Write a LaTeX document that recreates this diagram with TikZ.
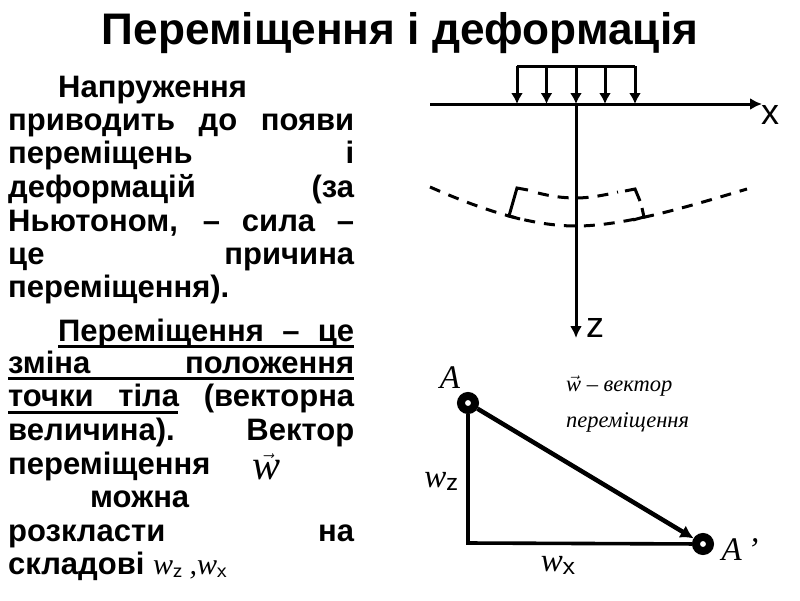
\documentclass[tikz,border=0pt]{standalone}
\usepackage{fontspec}
\setmainfont{Liberation Sans}
\newfontfamily\serifit[ItalicFont=Liberation Serif Italic]{Liberation Serif}
\usetikzlibrary{arrows.meta,positioning,calc}
\tikzset{
  bodytext/.style={anchor=base west, inner sep=0pt, font=\fontsize{31}{34}\selectfont\bfseries},
  axisline/.style={line width=3pt, -{Latex[length=12pt,width=12pt]}},
  loadline/.style={line width=3pt, -{Latex[length=11pt,width=12pt]}},
  beamline/.style={line width=3pt, dash pattern=on 11pt off 9pt},
  hookline/.style={line width=3pt},
  legline/.style={line width=3.6pt},
  ringnode/.style={circle, draw, line width=8pt, minimum size=14pt, inner sep=0pt, fill=white},
  axislab/.style={inner sep=0pt, font=\fontsize{36}{40}\selectfont},
  slantlab/.style={inner sep=0pt, font=\fontsize{33}{38}\selectfont\serifit\itshape},
  notetext/.style={inner sep=0pt, font=\fontsize{22.5}{26}\selectfont\serifit\itshape}
}
\newcommand{\just}[1]{\makebox[346pt][s]{#1}}
\newcommand{\vecw}{$\vec{\hbox{\serifit\itshape w}}$}
\begin{document}
\begin{tikzpicture}[x=1pt, y=-1pt]
  \useasboundingbox (0,0) rectangle (800,600);
  \node[inner sep=0pt, font=\fontsize{44.2}{48}\selectfont\bfseries] (title) at (400,33) {Переміщення і деформація};
  % left column
  \node[bodytext] (par1a) at (58,97) {Напруження};
  \foreach \name/\y/\txt in {par1b/130/приводить до появи, par1c/163/переміщень і, par1d/197/деформацій (за, par1e/231/{Ньютоном, – сила –}, par1f/264/це причина, par2b/373/зміна положення, par2c/406/точки тіла (векторна, par2d/440/величина). Вектор, par2g/541/розкласти на} {
    \node[bodytext] (\name) at (8,\y) {\just{\txt}};
  }
  \node[bodytext] (par1g) at (8,297) {переміщення).};
  \node[bodytext] (par2a) at (58,341) {\makebox[296pt][s]{Переміщення – це}};
  \node[bodytext] (par2e) at (8,474) {переміщення};
  \node[inner sep=0pt, font=\fontsize{42}{46}\selectfont] (vecw) at (267,467) {\vecw};
  \node[bodytext] (par2f) at (90,507) {можна};
  \node[bodytext] (par2h) at (8,574) {складові};
  \node[bodytext, font=\fontsize{30}{34}\selectfont\serifit\itshape] (subw) at (153,574) {w\raisebox{-3pt}{\fontsize{22}{26}\selectfont\normalfont\sffamily z} ,w\raisebox{-3pt}{\fontsize{22}{26}\selectfont\normalfont\sffamily x}};
  \draw[line width=3pt] (58,346) -- (354,346);
  \draw[line width=3pt] (8,378) -- (354,378);
  \draw[line width=3pt] (8,412) -- (178,412);
  % load and axes
  \coordinate (o) at (576,104);
  \coordinate (xbeg) at (430,104);
  \coordinate (xend) at (762,104);
  \coordinate (zend) at (576,338);
  \draw[axisline] (xbeg) -- (xend);
  \draw[axisline] (o) -- (zend);
  \draw[line width=3pt] (517,66) -- (635,66);
  \foreach \x in {517,546.5,576,605,635} {
    \draw[loadline] (\x,66) -- (\x,104);
  }
  \node[axislab] (xlab) at (770,115) {x};
  \node[axislab] (zlab) at (595,328) {z};
  % bent beam
  \draw[beamline] (430,187) .. controls (480,209) and (530,226) .. (576,226) .. controls (625,226) and (690,206) .. (747,189);
  \draw[beamline] (538,193) .. controls (550,196) and (562,198) .. (576,198) .. controls (590,198) and (605,195) .. (618,192);
  \draw[hookline] (528,190) -- (517,188) -- (509,216) -- (520,219);
  \draw[hookline] (625,191) -- (635,189) -- (640,201);
  \draw[hookline] (642,208) -- (644,217) -- (633,220);
  % displacement triangle
  \node[ringnode] (ptA) at (468,403) {};
  \node[ringnode] (ptB) at (703,544) {};
  \coordinate (corner) at (468,543);
  \draw[legline] (ptA) -- (corner) -- (ptB);
  \draw[line width=4.5pt, -{Latex[length=13pt,width=14pt]}] (ptA) -- (ptB);
  \node[slantlab] (labA) at (450,378) {A};
  \node[slantlab] (labB) at (740,550) {A\,’};
  \node[slantlab] (labz) at (441,481) {w\raisebox{-3pt}{\fontsize{28}{32}\selectfont\normalfont\sffamily z}};
  \node[slantlab] (labx) at (558,565) {w\raisebox{-3pt}{\fontsize{28}{32}\selectfont\normalfont\sffamily x}};
  \node[notetext, anchor=west] (notea) at (566,386) {\vecw{} – вектор};
  \node[notetext, anchor=west] (noteb) at (566,422) {переміщення};
\end{tikzpicture}
\end{document}
